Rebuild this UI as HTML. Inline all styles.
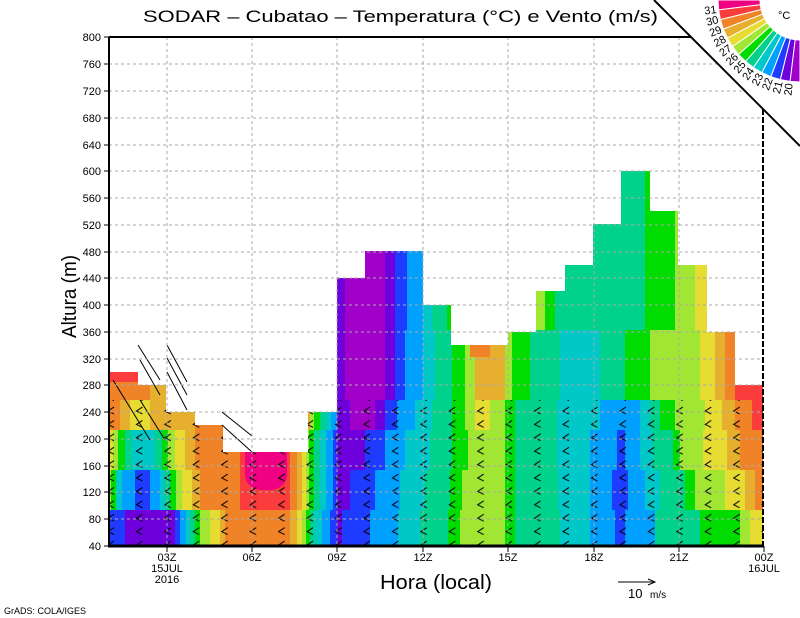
<!DOCTYPE html>
<html><head><meta charset="utf-8"><style>
html,body{margin:0;padding:0;background:#fff;}
#wrap{position:relative;width:800px;height:618px;overflow:hidden;background:#fff;}
#fill{position:absolute;left:0;top:0;width:800px;height:618px;
clip-path:polygon(109px 546px,109px 372px,138px 372px,138px 385px,166px 385px,166px 412px,195px 412px,195px 425px,223px 425px,223px 452px,308px 452px,308px 412px,337px 412px,337px 278px,365px 278px,365px 251px,423px 251px,423px 305px,451px 305px,451px 345px,508px 345px,508px 332px,536px 332px,536px 291px,565px 291px,565px 265px,593px 265px,593px 224px,621px 224px,621px 171px,650px 171px,650px 211px,678px 211px,678px 265px,707px 265px,707px 332px,735px 332px,735px 385px,763px 385px,763px 546px);}
.s{position:absolute;left:0;width:800px;}
svg{position:absolute;left:0;top:0;}
text{font-family:"Liberation Sans",sans-serif;}
</style></head><body><div id="wrap">
<div id="fill">
<div class="s" style="top:150px;height:180px;background:linear-gradient(to right,#f08228 0 337px,#6e00dc 337px 345px,#a000c8 345px 385px,#6e00dc 385px 395px,#1e3cff 395px 407px,#00a0ff 407px 423px,#00c8c8 423px 432px,#00d28c 432px 447px,#00dc00 447px 536px,#a0e632 536px 545px,#00dc00 545px 555px,#00d28c 555px 645px,#00dc00 645px 675px,#a0e632 675px 695px,#e6dc32 695px 800px);"></div>
<div class="s" style="top:330px;height:70px;background:linear-gradient(to right,#f08228 0 150px,#e6af2d 150px 337px,#6e00dc 337px 345px,#a000c8 345px 385px,#6e00dc 385px 395px,#1e3cff 395px 405px,#00a0ff 405px 423px,#00c8c8 423px 435px,#00d28c 435px 452px,#00dc00 452px 465px,#a0e632 465px 475px,#e6af2d 475px 505px,#a0e632 505px 512px,#00dc00 512px 530px,#00d28c 530px 560px,#00c8c8 560px 600px,#00d28c 600px 625px,#00dc00 625px 650px,#a0e632 650px 700px,#e6dc32 700px 715px,#e6af2d 715px 725px,#f08228 725px 735px,#fa3c3c 735px 800px);"></div>
<div class="s" style="top:400px;height:30px;background:linear-gradient(to right,#f08228 0 120px,#e6af2d 120px 130px,#e6dc32 130px 150px,#e6af2d 150px 195px,#f08228 195px 305px,#e6af2d 305px 310px,#a0e632 310px 314px,#00dc00 314px 320px,#00d28c 320px 326px,#00c8c8 326px 331px,#00a0ff 331px 337px,#6e00dc 337px 350px,#a000c8 350px 375px,#6e00dc 375px 385px,#1e3cff 385px 397px,#00a0ff 397px 415px,#00c8c8 415px 432px,#00d28c 432px 452px,#00dc00 452px 465px,#a0e632 465px 475px,#e6dc32 475px 490px,#a0e632 490px 505px,#00dc00 505px 515px,#00d28c 515px 557px,#00c8c8 557px 600px,#00a0ff 600px 640px,#00c8c8 640px 650px,#00d28c 650px 660px,#00dc00 660px 675px,#a0e632 675px 705px,#e6dc32 705px 722px,#e6af2d 722px 735px,#f08228 735px 752px,#fa3c3c 752px 800px);"></div>
<div class="s" style="top:430px;height:40px;background:linear-gradient(to right,#e6dc32 0 113px,#a0e632 113px 118px,#00dc00 118px 125px,#00d28c 125px 132px,#00c8c8 132px 155px,#00d28c 155px 162px,#00dc00 162px 168px,#a0e632 168px 175px,#e6dc32 175px 185px,#e6af2d 185px 195px,#f08228 195px 240px,#fa3c3c 240px 290px,#f08228 290px 297px,#e6af2d 297px 302px,#e6dc32 302px 306px,#a0e632 306px 309px,#00dc00 309px 314px,#00d28c 314px 320px,#00c8c8 320px 326px,#00a0ff 326px 333px,#1e3cff 333px 337px,#6e00dc 337px 365px,#1e3cff 365px 385px,#00a0ff 385px 405px,#00c8c8 405px 430px,#00d28c 430px 452px,#00dc00 452px 468px,#a0e632 468px 505px,#00dc00 505px 515px,#00d28c 515px 557px,#00c8c8 557px 590px,#00a0ff 590px 617px,#1e3cff 617px 625px,#00a0ff 625px 640px,#00c8c8 640px 653px,#00d28c 653px 673px,#00dc00 673px 680px,#a0e632 680px 703px,#e6dc32 703px 727px,#e6af2d 727px 740px,#f08228 740px 800px);"></div>
<div class="s" style="top:470px;height:40px;background:linear-gradient(to right,#a0e632 0 111px,#00dc00 111px 116px,#00c8c8 116px 122px,#00a0ff 122px 135px,#1e3cff 135px 150px,#00a0ff 150px 160px,#00c8c8 160px 165px,#00d28c 165px 170px,#00dc00 170px 176px,#a0e632 176px 182px,#e6dc32 182px 192px,#e6af2d 192px 200px,#f08228 200px 240px,#fa3c3c 240px 290px,#f08228 290px 297px,#e6af2d 297px 302px,#e6dc32 302px 306px,#a0e632 306px 309px,#00dc00 309px 314px,#00d28c 314px 320px,#00c8c8 320px 326px,#00a0ff 326px 333px,#1e3cff 333px 337px,#6e00dc 337px 350px,#1e3cff 350px 375px,#00a0ff 375px 400px,#00c8c8 400px 425px,#00d28c 425px 450px,#00dc00 450px 462px,#a0e632 462px 505px,#00dc00 505px 515px,#00d28c 515px 558px,#00c8c8 558px 590px,#00a0ff 590px 612px,#1e3cff 612px 628px,#00a0ff 628px 645px,#00c8c8 645px 660px,#00d28c 660px 685px,#00dc00 685px 695px,#a0e632 695px 725px,#e6dc32 725px 745px,#e6af2d 745px 755px,#f08228 755px 800px);"></div>
<div class="s" style="top:510px;height:40px;background:linear-gradient(to right,#1e3cff 0 125px,#6e00dc 125px 175px,#1e3cff 175px 180px,#00a0ff 180px 186px,#00c8c8 186px 190px,#00d28c 190px 195px,#00dc00 195px 200px,#a0e632 200px 210px,#e6dc32 210px 220px,#e6af2d 220px 225px,#f08228 225px 290px,#e6af2d 290px 297px,#e6dc32 297px 302px,#a0e632 302px 306px,#00dc00 306px 310px,#00d28c 310px 315px,#00c8c8 315px 322px,#00a0ff 322px 330px,#1e3cff 330px 337px,#6e00dc 337px 342px,#1e3cff 342px 370px,#00a0ff 370px 398px,#00c8c8 398px 420px,#00d28c 420px 448px,#00dc00 448px 460px,#a0e632 460px 505px,#00dc00 505px 515px,#00d28c 515px 560px,#00c8c8 560px 590px,#00a0ff 590px 615px,#1e3cff 615px 625px,#00a0ff 625px 655px,#00d28c 655px 700px,#00dc00 700px 740px,#a0e632 740px 750px,#e6dc32 750px 800px);"></div>
<div class="s" style="left:109px;width:29px;top:372px;height:10px;background:#fa3c3c;"></div>
<div style="position:absolute;left:245px;top:452px;width:42px;height:38px;border-radius:0 0 40% 40%;background:#f00082;"></div>
<div style="position:absolute;left:470px;top:345px;width:20px;height:12px;background:#f08228;"></div>
</div>
<svg width="800" height="618" viewBox="0 0 800 618">
<defs>
<clipPath id="cp"><polygon points="109,546 109,372 138,372 138,385 166,385 166,412 195,412 195,425 223,425 223,452 308,452 308,412 337,412 337,278 365,278 365,251 423,251 423,305 451,305 451,345 508,345 508,332 536,332 536,291 565,291 565,265 593,265 593,224 621,224 621,171 650,171 650,211 678,211 678,265 707,265 707,332 735,332 735,385 763,385 763,546"/></clipPath>
<pattern id="barb" x="105" y="404" width="28.44" height="13.4" patternUnits="userSpaceOnUse">
<path d="M9 3 L3 7 L9 10" fill="none" stroke="#000" stroke-width="1"/>
</pattern>
</defs>
<rect x="109" y="400" width="654" height="146" fill="url(#barb)" clip-path="url(#cp)"/>
<g stroke="#000" stroke-width="1" fill="none">
<path d="M138 345 L160 380 M140 360 L160 395 M167 345 L187 382 M167 358 L187 395 M167 372 L187 410 M222 412 L252 436 M222 425 L252 452 M113 380 L150 440 M140 400 L165 440"/>
</g>
<g stroke="#aaa" stroke-width="1" stroke-dasharray="3,3" fill="none">
<path d="M109 64H763M109 91H763M109 118H763M109 145H763M109 171H763M109 198H763M109 225H763M109 252H763M109 278H763M109 305H763M109 332H763M109 359H763M109 385H763M109 412H763M109 439H763M109 466H763M109 492H763M109 519H763"/>
<path d="M167 37V546M252 37V546M337 37V546M423 37V546M508 37V546M594 37V546M679 37V546"/>
</g>
<g stroke="#000" fill="none">
<path d="M109 37V547" stroke-width="2"/>
<path d="M108 546H764" stroke-width="3"/>
<path d="M109 37H763" stroke-width="2"/>
<path d="M763 37V546" stroke-width="2" stroke-dasharray="6,2"/>
<path d="M104 37H109M104 64H109M104 91H109M104 118H109M104 145H109M104 171H109M104 198H109M104 225H109M104 252H109M104 278H109M104 305H109M104 332H109M104 359H109M104 385H109M104 412H109M104 439H109M104 466H109M104 492H109M104 519H109M104 546H109"/>
<path d="M167 546V552M252 546V552M337 546V552M423 546V552M508 546V552M594 546V552M679 546V552M764 546V552"/>
</g>
<g font-size="11" text-anchor="end" fill="#000">
<text x="101" y="41">800</text><text x="101" y="68">760</text><text x="101" y="95">720</text><text x="101" y="122">680</text><text x="101" y="149">640</text><text x="101" y="175">600</text><text x="101" y="202">560</text><text x="101" y="229">520</text><text x="101" y="256">480</text><text x="101" y="282">440</text><text x="101" y="309">400</text><text x="101" y="336">360</text><text x="101" y="363">320</text><text x="101" y="389">280</text><text x="101" y="416">240</text><text x="101" y="443">200</text><text x="101" y="470">160</text><text x="101" y="496">120</text><text x="101" y="523">80</text><text x="101" y="550">40</text>
</g>
<g font-size="11" text-anchor="middle" fill="#000">
<text x="167" y="561">03Z</text><text x="167" y="572">15JUL</text><text x="167" y="583">2016</text>
<text x="252" y="561">06Z</text><text x="337" y="561">09Z</text><text x="423" y="561">12Z</text><text x="508" y="561">15Z</text><text x="594" y="561">18Z</text><text x="679" y="561">21Z</text>
<text x="764" y="561">00Z</text><text x="764" y="572">16JUL</text>
</g>
<text x="143" y="22" font-size="17" textLength="515" lengthAdjust="spacingAndGlyphs">SODAR – Cubatao – Temperatura (°C) e Vento (m/s)</text>
<text x="380" y="589" font-size="20" textLength="112" lengthAdjust="spacingAndGlyphs">Hora (local)</text>
<text transform="translate(76,338) rotate(-90)" font-size="20" textLength="83" lengthAdjust="spacingAndGlyphs">Altura (m)</text>
<text x="4" y="614" font-size="9">GrADS: COLA/IGES</text>
<path d="M618 582H654M648 579L655 582L648 585" stroke="#000" fill="none"/>
<text x="628" y="598" font-size="13">10</text><text x="650" y="598" font-size="10">m/s</text>
<polygon points="654,0 800,0 800,146" fill="#fff"/>
<path d="M654 0L800 146" stroke="#000" stroke-width="2"/>
<g stroke="#fff" stroke-width="1">
<polygon points="760,0 718,0 718.6,9.9 760.3,4.8" fill="#f00082"/>
<polygon points="760.3,4.8 718.6,9.9 720.4,19.6 761.2,9.6" fill="#fa3c3c"/>
<polygon points="761.2,9.6 720.4,19.6 723.3,29.1 762.6,14.2" fill="#f08228"/>
<polygon points="762.6,14.2 723.3,29.1 727.4,38.1 764.6,18.6" fill="#e6af2d"/>
<polygon points="764.6,18.6 727.4,38.1 732.5,46.6 767.1,22.7" fill="#e6dc32"/>
<polygon points="767.1,22.7 732.5,46.6 738.6,54.4 770.1,26.5" fill="#a0e632"/>
<polygon points="770.1,26.5 738.6,54.4 745.6,61.4 773.5,29.9" fill="#00dc00"/>
<polygon points="773.5,29.9 745.6,61.4 753.4,67.5 777.3,32.9" fill="#00d28c"/>
<polygon points="777.3,32.9 753.4,67.5 761.9,72.6 781.4,35.4" fill="#00c8c8"/>
<polygon points="781.4,35.4 761.9,72.6 770.9,76.7 785.8,37.4" fill="#00a0ff"/>
<polygon points="785.8,37.4 770.9,76.7 780.4,79.6 790.4,38.8" fill="#1e3cff"/>
<polygon points="790.4,38.8 780.4,79.6 790.1,81.4 795.2,39.7" fill="#6e00dc"/>
<polygon points="795.2,39.7 790.1,81.4 800,82 800,40" fill="#a000c8"/>
</g>
<g font-size="11" text-anchor="end" dominant-baseline="middle">
<text transform="translate(716.6,10.1) rotate(-6.9)">31</text>
<text transform="translate(718.4,20.1) rotate(-13.8)">30</text>
<text transform="translate(721.5,29.8) rotate(-20.8)">29</text>
<text transform="translate(725.6,39.0) rotate(-27.7)">28</text>
<text transform="translate(730.9,47.7) rotate(-34.6)">27</text>
<text transform="translate(737.1,55.7) rotate(-41.5)">26</text>
<text transform="translate(744.3,62.9) rotate(-48.5)">25</text>
<text transform="translate(752.3,69.1) rotate(-55.4)">24</text>
<text transform="translate(761.0,74.4) rotate(-62.3)">23</text>
<text transform="translate(770.2,78.5) rotate(-69.2)">22</text>
<text transform="translate(779.9,81.6) rotate(-76.2)">21</text>
<text transform="translate(789.9,83.4) rotate(-83.1)">20</text>
</g>
<text x="778" y="19" font-size="11">°C</text>
</svg>
</div></body></html>
